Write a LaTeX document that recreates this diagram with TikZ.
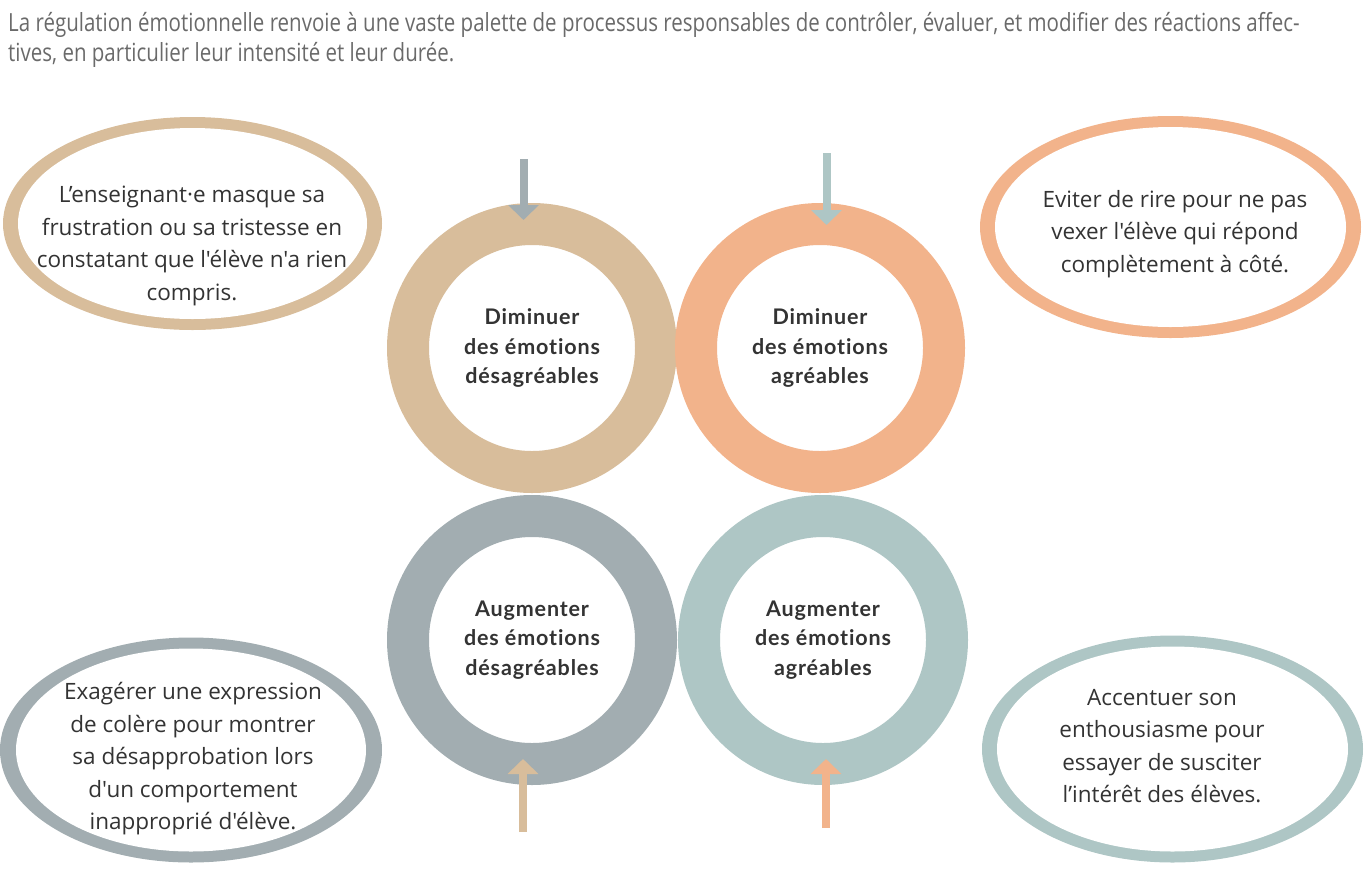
\documentclass[tikz,border=0pt]{standalone}
\usepackage{fontspec}
\setmainfont{Open Sans}
\newfontfamily\headfont[FakeStretch=0.82]{Open Sans}
\newfontfamily\ellfont{Open Sans}
\newfontfamily\boldfont[LetterSpace=4,Ligatures=NoCommon]{Lato}
\usetikzlibrary{shapes.geometric,arrows.meta}
\definecolor{ctan}{HTML}{D8BD9B}
\definecolor{csal}{HTML}{F2B38B}
\definecolor{cgray}{HTML}{A2ADB1}
\definecolor{cteal}{HTML}{AEC6C5}
\definecolor{ctext}{HTML}{333333}
\definecolor{chead}{HTML}{6A6A6A}
\tikzset{
  ring/.style={circle, draw=#1, line width=42pt, minimum size=248pt, inner sep=0pt, outer sep=0pt, fill=white},
  ringtext/.style={align=center, font=\boldfont\bfseries\fontsize{21.5}{29.5}\selectfont, text=ctext},
  outerell/.style={ellipse, fill=#1, inner sep=0pt},
  innerell/.style={ellipse, fill=white, inner sep=0pt},
  elltext/.style={align=center, font=\ellfont\fontsize{22.5}{32.5}\selectfont, text=ctext},
  arr/.style={draw=#1, line width=8pt, -{Triangle[width=30pt,length=15pt]}},
  headtext/.style={anchor=base west, inner sep=0pt, font=\headfont\fontsize{25}{30}\selectfont, text=chead}
}
\begin{document}
\begin{tikzpicture}[x=1pt,y=-1pt]
\useasboundingbox (0,0) rectangle (1368,871);
% header
\node[headtext] (h1) at (8,31) {La régulation émotionnelle renvoie à une vaste palette de processus responsables de contrôler, évaluer, et modifier des réactions affec-};
\node[headtext] (h2) at (8,61) {tives, en particulier leur intensité et leur durée.};
% ellipses
\node[outerell=ctan, minimum width=379pt, minimum height=213pt] (e1o) at (192.5,223.5) {};
\node[innerell, minimum width=349pt, minimum height=191pt] (e1i) at (192.5,223.5) {};
\node[elltext] (e1) at (192,246) {L’enseignant·e masque sa\\frustration ou sa tristesse en\\constatant que l'élève n'a rien\\compris.};

\node[outerell=csal, minimum width=381pt, minimum height=222pt] (e2o) at (1170.5,227) {};
\node[innerell, minimum width=351pt, minimum height=200pt] (e2i) at (1170.5,227) {};
\node[elltext] (e2) at (1175,234) {Eviter de rire pour ne pas\\vexer l'élève qui répond\\complètement à côté.};

\node[outerell=cgray, minimum width=382pt, minimum height=225pt] (e3o) at (191,750) {};
\node[innerell, minimum width=350pt, minimum height=203pt] (e3i) at (191,750) {};
\node[elltext] (e3) at (193,759) {Exagérer une expression\\de colère pour montrer\\sa désapprobation lors\\d'un comportement\\inapproprié d'élève.};

\node[outerell=cteal, minimum width=381pt, minimum height=227pt] (e4o) at (1172.5,749) {};
\node[innerell, minimum width=351pt, minimum height=205pt] (e4i) at (1172.5,749) {};
\node[elltext] (e4) at (1162,746) {Accentuer son\\enthousiasme pour\\essayer de susciter\\l’intérêt des élèves.};
% rings
\node[ring=ctan] (r1) at (532,348) {};
\node[ringtext] at (r1) {Diminuer\\des émotions\\désagréables};
\node[ring=csal] (r2) at (820,348) {};
\node[ringtext] at (r2) {Diminuer\\des émotions\\agréables};
\node[ring=cgray] (r3) at (532,640) {};
\node[ringtext] at (r3) {Augmenter\\des émotions\\désagréables};
\node[ring=cteal] (r4) at (823,640) {};
\node[ringtext] at (r4) {Augmenter\\des émotions\\agréables};
% arrows
\coordinate (a1s) at (523.5,159);
\coordinate (a1e) at (523.5,220);
\coordinate (a2s) at (826.5,153);
\coordinate (a2e) at (826.5,225);
\coordinate (a3s) at (523,832);
\coordinate (a3e) at (523,759);
\coordinate (a4s) at (826,828);
\coordinate (a4e) at (826,759);
\draw[arr=cgray] (a1s) -- (a1e);
\draw[arr=cteal] (a2s) -- (a2e);
\draw[arr=ctan] (a3s) -- (a3e);
\draw[arr=csal] (a4s) -- (a4e);
\end{tikzpicture}
\end{document}
